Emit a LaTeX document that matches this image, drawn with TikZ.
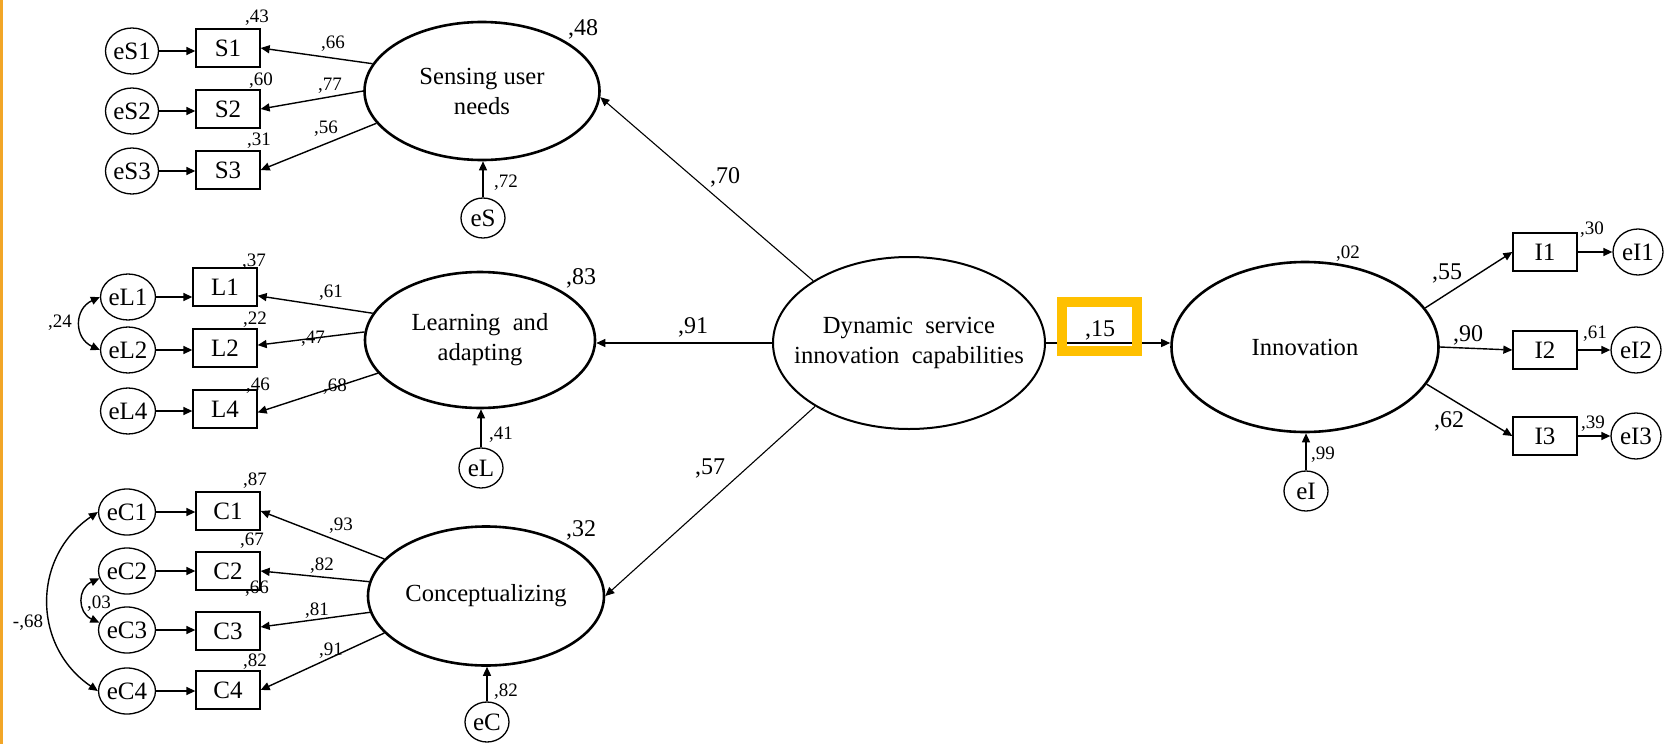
\documentclass[tikz,border=0pt]{standalone}
\usepackage{fontspec}
\setmainfont{Liberation Serif}
\usetikzlibrary{shapes.geometric,arrows.meta,calc}
\definecolor{edgeorange}{RGB}{242,166,40}
\definecolor{hlgold}{RGB}{255,192,0}
\begin{document}
\begin{tikzpicture}[x=0.5pt,y=-0.5pt,
  lat/.style={ellipse,draw,line width=1.3pt,inner sep=0pt},
  latt/.style={align=center,inner sep=0pt,font=\fontsize{12.3}{15}\selectfont},
  obs/.style={rectangle,draw,line width=0.65pt,minimum width=32pt,minimum height=19pt,inner sep=0pt,font=\fontsize{12.5}{15}\selectfont},
  err/.style={ellipse,draw,line width=0.65pt,minimum width=26pt,minimum height=23pt,inner sep=0pt,font=\fontsize{12.5}{15}\selectfont},
  dist/.style={ellipse,draw,line width=0.65pt,minimum width=22pt,minimum height=20pt,inner sep=0pt,font=\fontsize{12.5}{15}\selectfont},
  arr/.style={-{Triangle[length=4.5pt,width=4pt]},line width=0.7pt},
  sarr/.style={-{Triangle[length=4.5pt,width=4pt]},line width=0.55pt},
  dbl/.style={{Triangle[length=4.5pt,width=4pt]}-{Triangle[length=4.5pt,width=4pt]},line width=0.7pt},
  big/.style={inner sep=0pt,font=\fontsize{12}{14}\selectfont},
  small/.style={inner sep=0pt,font=\fontsize{9.5}{11}\selectfont},
]
\useasboundingbox (0,0) rectangle (1671,744);
\fill[edgeorange] (0,0) rectangle (3,744);

% latent variables
\node[lat,minimum width=117.5pt,minimum height=69pt,label={[latt]center:Sensing user\\needs}] (sens) at (482,91) {};
\node[lat,minimum width=115pt,minimum height=68pt,label={[latt]center:Learning\ \ and\\adapting}] (learn) at (480,340) {};
\node[lat,minimum width=118pt,minimum height=69.5pt,label={[latt]center:Conceptualizing}] (conc) at (486,596) {};
\node[lat,line width=1pt,minimum width=136pt,minimum height=86pt,label={[latt]center:Dynamic\ \ service\\innovation\ \ capabilities}] (dyn) at (909,343) {};
\node[lat,minimum width=133.5pt,minimum height=85pt,label={[latt]center:Innovation}] (innov) at (1305,347) {};

% observed
\node[obs] (S1) at (228,48) {S1};
\node[obs] (S2) at (228,109) {S2};
\node[obs] (S3) at (228,170) {S3};
\node[obs] (L1) at (225,287) {L1};
\node[obs] (L2) at (225,348) {L2};
\node[obs] (L4) at (225,409) {L4};
\node[obs] (C1) at (228,511) {C1};
\node[obs] (C2) at (228,571) {C2};
\node[obs] (C3) at (228,631) {C3};
\node[obs] (C4) at (228,690) {C4};
\node[obs] (I1) at (1545,252) {I1};
\node[obs] (I2) at (1545,350) {I2};
\node[obs] (I3) at (1545,436) {I3};

% errors
\node[err] (eS1) at (132,51) {eS1};
\node[err] (eS2) at (132,111) {eS2};
\node[err] (eS3) at (132,171) {eS3};
\node[err] (eL1) at (128,297) {eL1};
\node[err] (eL2) at (128,350) {eL2};
\node[err] (eL4) at (128,411) {eL4};
\node[err] (eC1) at (127,512) {eC1};
\node[err] (eC2) at (127,571) {eC2};
\node[err] (eC3) at (127,630) {eC3};
\node[err] (eC4) at (127,691) {eC4};
\node[err,minimum width=25pt] (eI1) at (1638,252) {eI1};
\node[err,minimum width=25pt] (eI2) at (1636,350) {eI2};
\node[err,minimum width=25pt] (eI3) at (1636,436) {eI3};

% disturbances
\node[dist] (eS) at (483,218) {eS};
\node[dist] (eL) at (481,468) {eL};
\node[dist] (eC) at (487,722) {eC};
\node[dist] (eI) at (1306,491) {eI};

% error arrows
\foreach \e/\o in {eS1/S1,eS2/S2,eS3/S3,eL1/L1,eL2/L2,eL4/L4,eC1/C1,eC2/C2,eC3/C3,eC4/C4}
  \draw[arr] (\e.east) -- (\e.east -| \o.west);
\foreach \o/\e in {I1/eI1,I2/eI2,I3/eI3}
  \draw[arr] (\o.east) -- (\o.east -| \e.west);

% loadings
\draw[arr] (sens.166) -- (S1.east);
\draw[arr] (sens.180) -- (S2.east);
\draw[arr] (sens.197) -- (S3.east);
\draw[arr] (learn.166) -- (L1.-15);
\draw[arr] (learn.176) -- (L2.5);
\draw[arr] (learn.198) -- (L4.-6);
\draw[arr] (conc.160) -- (C1.east);
\draw[arr] (conc.173) -- (C2.east);
\draw[arr] (conc.188) -- (C3.7);
\draw[arr] (conc.200) -- (C4.east);
\draw[arr] (innov.18) -- (I1.west);
\draw[arr] (innov.east) -- (I2.west);
\draw[arr] (innov.-17) -- (I3.west);

% structural
\draw[sarr] (dyn.147) -- (sens.-3);
\draw[sarr] (dyn.west) -- (dyn.west -| learn.east);
\draw[sarr] (dyn.214) -- (conc.east);
\draw[arr] (dyn.east) -- (dyn.east -| innov.west);

% disturbance arrows
\draw[arr] (eS.north) -- (eS.north |- sens.south);
\draw[arr] (eL.north) -- (eL.north |- learn.south);
\draw[arr] (eC.north) -- (eC.north |- conc.south);
\draw[arr] (eI.north) -- (eI.north |- innov.south);

% covariances
\draw[dbl] (eL1.west) .. controls +(-26,12) and +(-26,-12) .. (eL2.west);
\draw[dbl] (eC1.west) .. controls +(-66,45) and +(-66,-45) .. (eC4.west);
\draw[dbl] (eC2.195) .. controls +(-22,10) and +(-22,-10) .. (eC3.165);

% highlight
\node[draw=hlgold,line width=5pt,minimum width=37.5pt,minimum height=24.5pt,inner sep=0pt] (hl) at (1099.5,326.5) {};

% big labels
\node[big] (r48) at (583,29) {,48};
\node[big] (r83) at (581,278) {,83};
\node[big] (r32) at (581,530) {,32};
\node[big] (p70) at (725,177) {,70};
\node[big] (p91) at (693,327) {,91};
\node[big] (p57) at (710,468) {,57};
\node[big] (p15) at (1100,330) {,15};
\node[big] (p55) at (1447,273) {,55};
\node[big] (p90) at (1468,335) {,90};
\node[big] (p62) at (1449,421) {,62};

% small labels
\node[small] (rS1) at (257,18) {,43};
\node[small] (rS2) at (261,81) {,60};
\node[small] (rS3) at (259,141) {,31};
\node[small] (lS1) at (333,44) {,66};
\node[small] (lS2) at (330,86) {,77};
\node[small] (lS3) at (326,129) {,56};
\node[small] (deS) at (506,183) {,72};
\node[small] (rL1) at (254,262) {,37};
\node[small] (rL2) at (255,320) {,22};
\node[small] (rL4) at (258,386) {,46};
\node[small] (lL1) at (331,293) {,61};
\node[small] (lL2) at (313,339) {,47};
\node[small] (lL4) at (335,387) {,68};
\node[small] (deL) at (501,435) {,41};
\node[small] (cL) at (60,323) {,24};
\node[small] (rC1) at (255,481) {,87};
\node[small] (rC2) at (252,541) {,67};
\node[small] (rC3) at (257,589) {,66};
\node[small] (rC4) at (255,662) {,82};
\node[small] (lC1) at (341,526) {,93};
\node[small] (lC2) at (322,566) {,82};
\node[small] (lC3) at (317,611) {,81};
\node[small] (lC4) at (331,651) {,91};
\node[small] (cC14) at (28,623) {-,68};
\node[small] (cC23) at (99,604) {,03};
\node[small] (deC) at (506,692) {,82};
\node[small] (rI) at (1348,254) {,02};
\node[small] (deI) at (1323,455) {,99};
\node[small] (rI1) at (1592,230) {,30};
\node[small] (rI2) at (1595,334) {,61};
\node[small] (rI3) at (1593,424) {,39};
\end{tikzpicture}
\end{document}
